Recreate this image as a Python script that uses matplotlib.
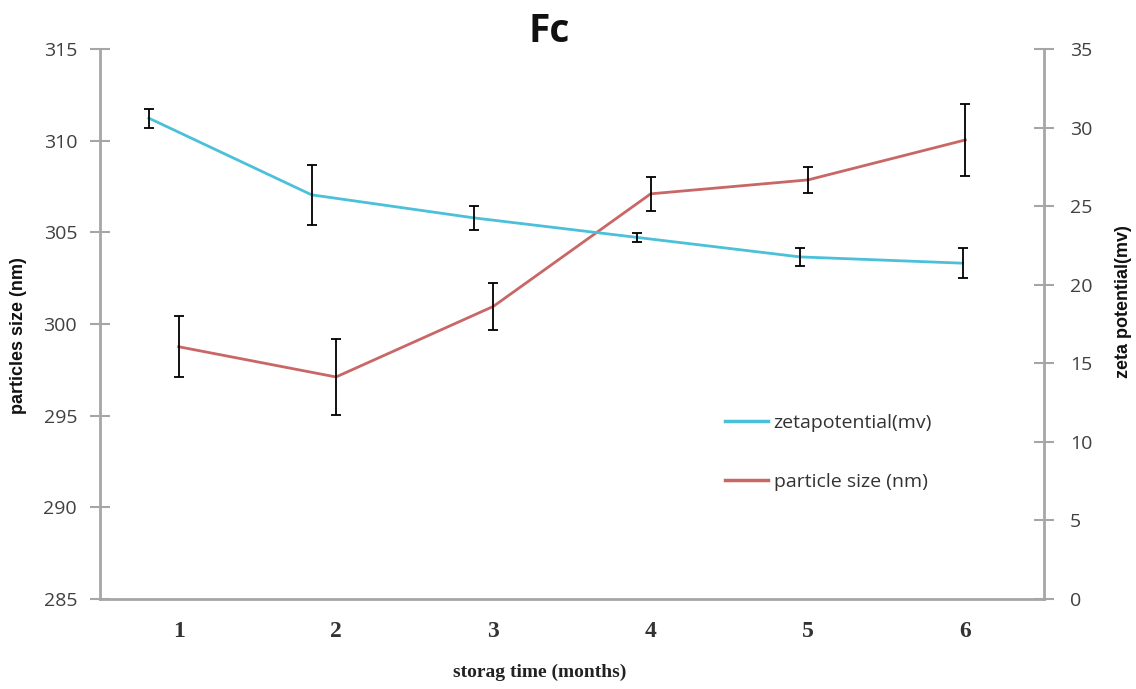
import matplotlib
matplotlib.use('Agg')
import numpy
from matplotlib import pyplot as plt

# data
months = [1, 2, 3, 4, 5, 6]
zeta = [30.6, 25.72, 24.25, 23.01, 21.77, 21.37]
zetaErr = [0.60, 1.91, 0.76, 0.27, 0.56, 0.95]
size = [298.76, 297.11, 300.96, 307.1, 307.86, 310.04]
sizeErr = [1.67, 2.06, 1.29, 0.91, 0.69, 1.96]
leftTicks = [285, 290, 295, 300, 305, 310, 315]
rightTicks = [0, 5, 10, 15, 20, 25, 30, 35]

blue = '#4BC0D9'
red = '#C96666'
spineColor = '#A6A6A6'
labelColor = '#404040'

fig = plt.figure(figsize=(11.36, 6.89), dpi=100)
rect = [100 / 1136, 90 / 689, 944 / 1136, 550 / 689]

# particle size on the left axis
ax = fig.add_axes(rect)
ax.plot(months, size, color=red, lw=2, zorder=2)
ax.errorbar(months, size, yerr=sizeErr, fmt='none', ecolor='black',
            elinewidth=1.3, capsize=3.5, capthick=1.3, zorder=3)
ax.set_xlim(0.5, 6.5)
ax.set_ylim(285, 315)
ax.set_yticks(leftTicks)
ax.set_xticks(months)
ax.set_xticklabels([str(m) for m in months], fontfamily='Liberation Serif',
                   fontweight='bold', fontsize=17, color='#333333')
ax.tick_params(axis='x', length=0, pad=16)
ax.tick_params(axis='y', direction='inout', length=15, width=1.5,
               color=spineColor, pad=9, labelsize=14, labelcolor=labelColor)
for t in ax.get_yticklabels():
	t.set_fontfamily('Open Sans')
for s in ['top', 'right']:
	ax.spines[s].set_visible(False)
for s in ['left', 'bottom']:
	ax.spines[s].set_color(spineColor)
	ax.spines[s].set_linewidth(2)

# zeta potential on the right axis, with its own x scale like the original
ax2 = fig.add_axes(rect)
ax2.patch.set_visible(False)
ax2.plot(months, zeta, color=blue, lw=2, zorder=2)
ax2.errorbar(months, zeta, yerr=zetaErr, fmt='none', ecolor='black',
             elinewidth=1.3, capsize=3.5, capthick=1.3, zorder=3)
ax2.set_xlim(0.70, 6.50)
ax2.set_ylim(0, 35)
ax2.set_yticks(rightTicks)
ax2.xaxis.set_visible(False)
ax2.yaxis.tick_right()
for s in ['top', 'left', 'bottom']:
	ax2.spines[s].set_visible(False)
ax2.spines['right'].set_color(spineColor)
ax2.spines['right'].set_linewidth(2)
ax2.tick_params(axis='y', direction='inout', length=15, width=1.5,
                color=spineColor, pad=11, labelsize=14, labelcolor=labelColor)
for t in ax2.get_yticklabels():
	t.set_fontfamily('Open Sans')

fig.text(549 / 1136, 1 - 31 / 689, 'Fc', ha='center', va='center',
         fontsize=28, fontweight='bold', fontfamily='Open Sans', color='#111111')
fig.text(540 / 1136, 1 - 672 / 689, 'storag time (months)', ha='center',
         va='center', fontsize=14, fontweight='bold',
         fontfamily='Liberation Serif', color='#222222')
fig.text(19 / 1136, 1 - 336 / 689, 'particles size (nm)', ha='center',
         va='center', rotation=90, fontsize=13, fontweight='bold',
         fontfamily='Liberation Sans', color='#111111')
fig.text(1123 / 1136, 1 - 302 / 689, 'zeta potential(mv)', ha='center',
         va='center', rotation=90, fontsize=13, fontweight='bold',
         fontfamily='Liberation Sans', color='#111111')

handles = [plt.Line2D([], [], color=blue, lw=2.5),
           plt.Line2D([], [], color=red, lw=2.5)]
fig.legend(handles, ['zetapotential(mv)', 'particle size (nm)'],
           loc='upper left', bbox_to_anchor=(725 / 1136, 1 - 414 / 689),
           frameon=False, borderpad=0, borderaxespad=0, handlelength=2.2,
           handletextpad=0.3, labelspacing=2.1,
           prop={'family': 'Open Sans', 'size': 14}, labelcolor='#333333')

fig.savefig('out.png', dpi=100)
